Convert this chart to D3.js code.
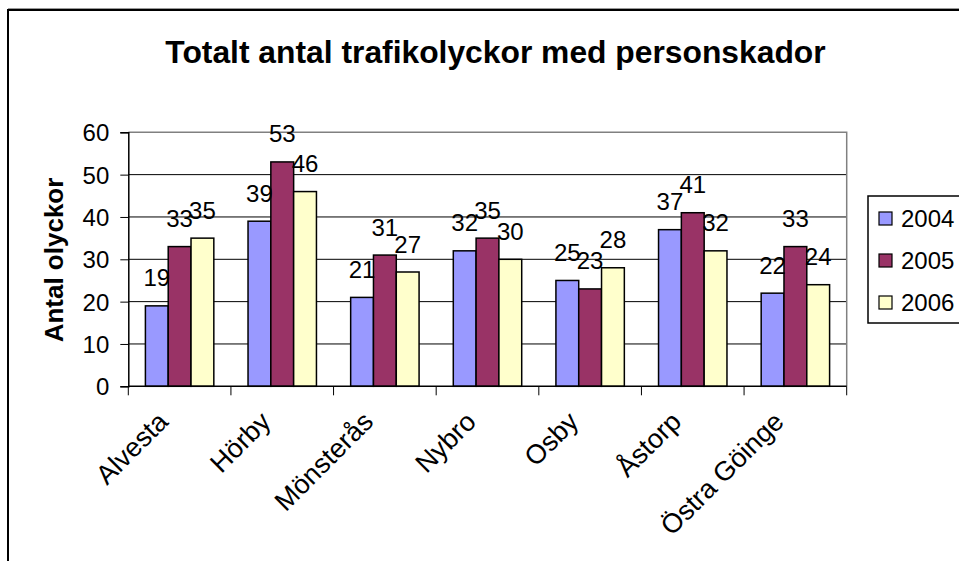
<!DOCTYPE html>
<html lang="sv">
<head>
<meta charset="utf-8">
<title>Totalt antal trafikolyckor med personskador</title>
<script src="https://d3js.org/d3.v7.min.js"></script>
<style>
  body { margin: 0; background: #fff; }
  text { font-family: "Liberation Sans", Arial, sans-serif; fill: #000; }
</style>
</head>
<body>
<div id="chart"></div>
<script>
// data
const kommuner = ["Alvesta", "Hörby", "Mönsterås", "Nybro", "Osby", "Åstorp", "Östra Göinge"];
const years = ["2004", "2005", "2006"];
const v2004 = [19, 39, 21, 32, 25, 37, 22];
const v2005 = [33, 53, 31, 35, 23, 41, 33];
const v2006 = [35, 46, 27, 30, 28, 32, 24];
const yTicks = [0, 10, 20, 30, 40, 50, 60];
const colors = ["#9999FF", "#993366", "#FFFFCC"];

const series = [v2004, v2005, v2006];
const rows = [];
kommuner.forEach((k, i) => {
  years.forEach((yr, j) => rows.push({ kommun: k, year: yr, value: series[j][i] }));
});

const width = 959, height = 561;
const plot = { left: 128.3, right: 846.7, top: 132.3, bottom: 386.3 };

const svg = d3.select("#chart").append("svg")
  .attr("width", width)
  .attr("height", height);

// outer chart frame (runs off the right and bottom)
svg.append("rect")
  .attr("x", 8).attr("y", 10)
  .attr("width", 1000).attr("height", 1000)
  .attr("fill", "#fff")
  .attr("stroke", "#000")
  .attr("stroke-width", 2);
svg.append("line")
  .attr("x1", 8).attr("x2", 959).attr("y1", 8.5).attr("y2", 8.5)
  .attr("stroke", "#999").attr("stroke-width", 1);

const x = d3.scaleBand().domain(kommuner).range([plot.left, plot.right]).paddingInner(0).paddingOuter(0);
const xs = d3.scaleBand().domain(years).range([0, x.bandwidth()]).paddingInner(0).paddingOuter(0.75);
const y = d3.scaleLinear().domain([0, 60]).range([plot.bottom, plot.top]);

// gridlines
svg.append("g")
  .selectAll("line")
  .data(yTicks.filter(t => t > 0 && t < 60))
  .join("line")
  .attr("x1", plot.left).attr("x2", plot.right)
  .attr("y1", d => y(d)).attr("y2", d => y(d))
  .attr("stroke", "#000").attr("stroke-width", 1);

// plot area border (top + right, grey)
svg.append("path")
  .attr("d", `M${plot.left},${y(60)}H${plot.right}V${plot.bottom}`)
  .attr("fill", "none")
  .attr("stroke", "#808080")
  .attr("stroke-width", 1.5);

// bars
svg.append("g")
  .selectAll("rect")
  .data(rows)
  .join("rect")
  .attr("x", d => x(d.kommun) + xs(d.year))
  .attr("y", d => y(d.value))
  .attr("width", xs.bandwidth())
  .attr("height", d => y(0) - y(d.value))
  .attr("fill", d => colors[years.indexOf(d.year)])
  .attr("stroke", "#000")
  .attr("stroke-width", 1.5);

// data labels
svg.append("g")
  .selectAll("text")
  .data(rows)
  .join("text")
  .attr("x", d => x(d.kommun) + xs(d.year) + xs.bandwidth() / 2)
  .attr("y", d => y(d.value) - 19.5)
  .attr("text-anchor", "middle")
  .style("font-size", "24px")
  .text(d => d.value);

// y axis
const yAxis = svg.append("g")
  .attr("transform", `translate(${plot.left},0)`)
  .call(d3.axisLeft(y).tickValues(yTicks).tickSize(8).tickPadding(11));
yAxis.select(".domain").attr("stroke", "#000").attr("stroke-width", 1.5);
yAxis.selectAll(".tick line").attr("stroke", "#000");
yAxis.selectAll(".tick text")
  .attr("font-family", null)
  .attr("font-size", null)
  .style("font-size", "24px")
  .attr("dy", "0.36em");

// x axis: ticks sit on category boundaries
const xAxis = svg.append("g")
  .attr("transform", `translate(0,${plot.bottom})`);
xAxis.append("line")
  .attr("x1", plot.left).attr("x2", plot.right)
  .attr("stroke", "#000").attr("stroke-width", 1.5);
xAxis.selectAll("line.tk")
  .data(kommuner.concat(["end"]))
  .join("line")
  .attr("class", "tk")
  .attr("x1", (d, i) => plot.left + i * x.step())
  .attr("x2", (d, i) => plot.left + i * x.step())
  .attr("y1", 0).attr("y2", 9)
  .attr("stroke", "#000");
xAxis.selectAll("text")
  .data(kommuner)
  .join("text")
  .attr("transform", d => `translate(${x(d) + x.bandwidth() / 2 - 10},37) rotate(-45)`)
  .attr("text-anchor", "end")
  .style("font-size", "27px")
  .text(d => d);

// title
svg.append("text")
  .attr("x", 495.5)
  .attr("y", 63)
  .attr("text-anchor", "middle")
  .style("font-size", "31.8px")
  .style("font-weight", "bold")
  .text("Totalt antal trafikolyckor med personskador");

// y axis title
svg.append("text")
  .attr("transform", "translate(63,260) rotate(-90)")
  .attr("text-anchor", "middle")
  .style("font-size", "26px")
  .style("font-weight", "bold")
  .text("Antal olyckor");

// legend
const legend = svg.append("g");
legend.append("rect")
  .attr("x", 868).attr("y", 196)
  .attr("width", 200).attr("height", 127)
  .attr("fill", "#fff")
  .attr("stroke", "#000")
  .attr("stroke-width", 1.5);
const rowY = [218, 260, 302];
const item = legend.selectAll("g.item")
  .data(years)
  .join("g")
  .attr("class", "item")
  .attr("transform", (d, i) => `translate(0,${rowY[i]})`);
item.append("rect")
  .attr("x", 879).attr("y", -6)
  .attr("width", 13).attr("height", 13)
  .attr("fill", (d, i) => colors[i])
  .attr("stroke", "#000")
  .attr("stroke-width", 1.2);
item.append("text")
  .attr("x", 901)
  .attr("y", 0)
  .attr("dy", "0.36em")
  .style("font-size", "24px")
  .text(d => d);
</script>
</body>
</html>
